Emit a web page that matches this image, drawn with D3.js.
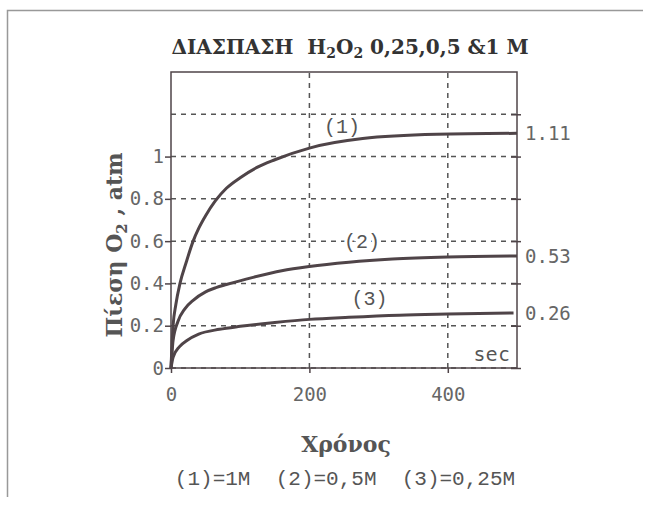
<!DOCTYPE html>
<html>
<head>
<meta charset="utf-8">
<script src="https://cdn.jsdelivr.net/npm/d3@7"></script>
<style>
  body { margin: 0; background: #fff; }
  svg { display: block; }
</style>
</head>
<body>
<svg id="chart" width="651" height="507"></svg>
<script>
// time points (sec) and pressure O2 (atm)
const t1 = [0, 3, 7, 13, 22, 32, 40, 50, 64, 80, 100, 125, 150, 200, 277, 384, 500];
const p1 = [0, 0.2, 0.3, 0.4, 0.5, 0.6, 0.66, 0.72, 0.79, 0.85, 0.9, 0.95, 0.985, 1.04, 1.085, 1.105, 1.11];
const t2 = [0, 3, 10, 20, 32, 50, 65, 80, 120, 160, 200, 257, 320, 400, 500];
const p2 = [0, 0.13, 0.22, 0.28, 0.32, 0.36, 0.38, 0.395, 0.43, 0.46, 0.48, 0.5, 0.515, 0.525, 0.53];
const t3 = [0, 3, 12, 23, 40, 70, 100, 150, 200, 257, 330, 400, 495];
const p3 = [0, 0.05, 0.1, 0.13, 0.16, 0.183, 0.197, 0.215, 0.23, 0.24, 0.25, 0.255, 0.26];
const curveNames = ["(1)", "(2)", "(3)"];
const curveLabelT = [247, 276, 287];   // where "(n)" sits along x
const curveLabelP = [1.145, 0.6, 0.33];
const endLabels = ["1.11", "0.53", "0.26"];
const yTicks = [0, 0.2, 0.4, 0.6, 0.8, 1];
const yGrid = [0, 0.2, 0.4, 0.6, 0.8, 1, 1.2];
const xTicks = [0, 200, 400];
const xGrid = [200, 400];

const svg = d3.select("#chart");
const ink = "#4f4448";
const grey = "#666";
const serif = "'DejaVu Serif', 'Liberation Serif', serif";
const mono = "'Liberation Mono', 'Courier New', monospace";

const x = d3.scaleLinear().domain([0, 500]).range([171, 517]);
const y = d3.scaleLinear().domain([0, 1.4]).range([368, 72]);

// frame around the picture (left & top edges visible)
svg.append("path")
    .attr("d", "M7.5,497 L7.5,10.5 L643,10.5")
    .attr("fill", "none")
    .attr("stroke", "#999")
    .attr("stroke-width", 1.5);

// title
const title = svg.append("text")
    .attr("x", 350).attr("y", 54)
    .attr("text-anchor", "middle")
    .attr("xml:space", "preserve")
    .style("font-family", serif)
    .style("font-weight", "bold")
    .style("font-size", "20px")
    .style("fill", "#333");
title.append("tspan").text("ΔΙΑΣΠΑΣΗ  H");
title.append("tspan").attr("dy", 4).style("font-size", "14px").text("2");
title.append("tspan").attr("dy", -4).text("O");
title.append("tspan").attr("dy", 4).style("font-size", "14px").text("2");
title.append("tspan").attr("dy", -4).text(" 0,25,0,5 &1 M");

// grid
svg.append("g").selectAll("line")
    .data(yGrid)
    .enter().append("line")
    .attr("x1", x(0)).attr("x2", x(500))
    .attr("y1", d => y(d)).attr("y2", d => y(d))
    .attr("stroke", "#555")
    .attr("stroke-width", 1.5)
    .attr("stroke-dasharray", "5,5");

svg.append("g").selectAll("line")
    .data(xGrid)
    .enter().append("line")
    .attr("x1", d => x(d)).attr("x2", d => x(d))
    .attr("y1", y(0)).attr("y2", y(1.4))
    .attr("stroke", "#555")
    .attr("stroke-width", 1.5)
    .attr("stroke-dasharray", "5,5");

// plot box
svg.append("rect")
    .attr("x", x(0)).attr("y", y(1.4))
    .attr("width", x(500) - x(0))
    .attr("height", y(0) - y(1.4))
    .attr("fill", "none")
    .attr("stroke", ink)
    .attr("stroke-width", 1.5);

// y axis ticks + labels
const yAxis = d3.axisLeft(y).tickValues(yTicks).tickSize(6).tickPadding(1)
    .tickFormat(d => d === 0 ? "0" : d === 1 ? "1" : d3.format(".1f")(d));
const gy = svg.append("g").attr("transform", `translate(${x(0)},0)`).call(yAxis);
gy.select(".domain").remove();

// right side ticks
const gr = svg.append("g").attr("transform", `translate(${x(500)},0)`)
    .call(d3.axisRight(y).tickValues(yGrid).tickSize(4).tickFormat(""));
gr.select(".domain").remove();
gr.selectAll("line").attr("x1", -6);

// x axis
const gx = svg.append("g").attr("transform", `translate(0,${y(0)})`)
    .call(d3.axisBottom(x).tickValues(xTicks).tickSize(5).tickPadding(15).tickFormat(d3.format("d")));
gx.select(".domain").remove();

svg.selectAll(".tick line").attr("stroke", ink).attr("stroke-width", 1.5);
svg.selectAll(".tick text")
    .style("font-family", "'DejaVu Sans Mono', monospace")
    .style("font-size", "19px")
    .style("fill", grey);

const series = [
  { t: t1, p: p1 },
  { t: t2, p: p2 },
  { t: t3, p: p3 }
];

// "(n)" labels first, with a white halo that breaks the grid
series.forEach((s, i) => {
  svg.append("text")
      .attr("x", x(curveLabelT[i]))
      .attr("y", y(curveLabelP[i]))
      .attr("text-anchor", "middle")
      .attr("dy", "0.35em")
      .style("font-family", mono)
      .style("font-size", "20px")
      .style("fill", "#555")
      .style("stroke", "#fff")
      .style("stroke-width", 6)
      .style("paint-order", "stroke")
      .text(curveNames[i]);
});

// curves
const line = d3.line()
    .x(d => x(d[0]))
    .y(d => y(d[1]))
    .curve(d3.curveMonotoneX);

series.forEach((s, i) => {
  svg.append("path")
      .datum(s.t.map((tv, j) => [tv, s.p[j]]))
      .attr("d", line)
      .attr("fill", "none")
      .attr("stroke", ink)
      .attr("stroke-width", 3);

  // end value on the right
  svg.append("text")
      .attr("x", x(500) + 8)
      .attr("y", y(s.p[s.p.length - 1]))
      .attr("dy", "0.35em")
      .style("font-family", "'DejaVu Sans Mono', monospace")
      .style("font-size", "19px")
      .style("fill", grey)
      .text(endLabels[i]);
});

// "sec" unit inside the plot
svg.append("text")
    .attr("x", x(500) - 6).attr("y", y(0) - 7)
    .attr("text-anchor", "end")
    .style("font-family", "'DejaVu Sans', sans-serif")
    .style("font-size", "19px")
    .style("letter-spacing", "1.5px")
    .style("fill", "#555")
    .text("sec");

// axis titles
const yl = svg.append("text")
    .attr("transform", "translate(122,245) rotate(-90)")
    .attr("text-anchor", "middle")
    .attr("xml:space", "preserve")
    .style("font-family", serif)
    .style("font-weight", "bold")
    .style("font-size", "22px")
    .style("fill", "#555");
yl.append("tspan").text("Πίεση O");
yl.append("tspan").attr("dy", 5).style("font-size", "15px").text("2");
yl.append("tspan").attr("dy", -5).text(" , atm");

svg.append("text")
    .attr("x", 346).attr("y", 452)
    .attr("text-anchor", "middle")
    .style("font-family", serif)
    .style("font-weight", "bold")
    .style("font-size", "22px")
    .style("fill", "#555")
    .text("Χρόνος");

svg.append("text")
    .attr("x", 345).attr("y", 485)
    .attr("text-anchor", "middle")
    .attr("xml:space", "preserve")
    .style("font-family", mono)
    .style("font-size", "21px")
    .style("fill", "#555")
    .text("(1)=1M  (2)=0,5M  (3)=0,25M");
</script>
</body>
</html>
